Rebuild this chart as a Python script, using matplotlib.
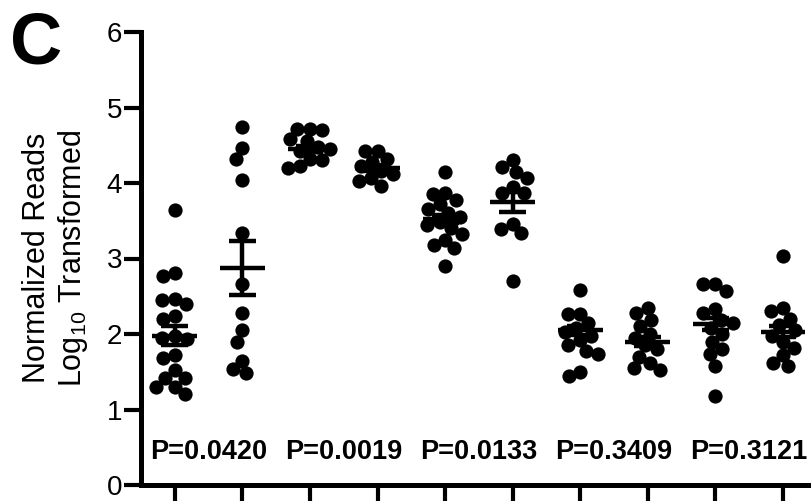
import math
import matplotlib
matplotlib.use("Agg")
import matplotlib.pyplot as plt

plt.rcParams['font.family'] = ['Liberation Sans', 'DejaVu Sans']
plt.rcParams['mathtext.default'] = 'regular'

# ---- data ----
groups = [
    [3.64, 2.81, 2.77, 2.47, 2.45, 2.40, 2.24, 2.20, 1.97, 1.95, 1.93, 1.72,
     1.68, 1.52, 1.42, 1.42, 1.30, 1.30, 1.20],
    [4.74, 4.46, 4.32, 4.04, 3.34, 2.66, 2.28, 2.05, 1.90, 1.64, 1.53, 1.48],
    [4.72, 4.71, 4.70, 4.58, 4.56, 4.48, 4.45, 4.42, 4.32, 4.30, 4.22, 4.20],
    [4.43, 4.42, 4.32, 4.28, 4.22, 4.16, 4.12, 4.06, 4.02, 3.96],
    [4.14, 3.87, 3.86, 3.78, 3.72, 3.66, 3.60, 3.55, 3.48, 3.45, 3.40, 3.33,
     3.25, 3.18, 3.14, 2.90],
    [4.30, 4.21, 4.14, 4.07, 3.95, 3.87, 3.87, 3.46, 3.39, 3.34, 2.70],
    [2.58, 2.27, 2.26, 2.14, 2.08, 2.02, 1.98, 1.92, 1.85, 1.78, 1.73, 1.50,
     1.44],
    [2.34, 2.28, 2.18, 2.10, 2.00, 1.95, 1.85, 1.80, 1.70, 1.62, 1.55, 1.52],
    [2.66, 2.66, 2.57, 2.33, 2.28, 2.18, 2.15, 2.08, 2.00, 1.90, 1.80, 1.73,
     1.57, 1.18],
    [3.03, 2.34, 2.30, 2.20, 2.12, 2.05, 1.98, 1.90, 1.82, 1.72, 1.62, 1.57],
]
means = [1.98, 2.87, 4.45, 4.20, 3.52, 3.75, 2.05, 1.90, 2.13, 2.03]
sems = [0.12, 0.36, 0.04, 0.04, 0.05, 0.13, 0.06, 0.06, 0.08, 0.07]
p_labels = ["P=0.0420", "P=0.0019", "P=0.0133", "P=0.3409", "P=0.3121"]
yticks = [0, 1, 2, 3, 4, 5, 6]

# ---- figure ----
W, H = 812, 501
fig = plt.figure(figsize=(W / 100, H / 100), dpi=100)
ax_left, ax_bottom = 141 / W, 16 / H
ax_w, ax_h = 1 - ax_left, 453 / H
ax = fig.add_axes([ax_left, ax_bottom, ax_w, ax_h])
xmin, xmax = 0.5, 10.43
ax.set_xlim(xmin, xmax)
ax.set_ylim(0, 6)

px_x = ax_w * W / (xmax - xmin)   # pixels per x unit
px_y = ax_h * H / 6               # pixels per y unit


def swarm(vals, d):
    placed = []
    offs = []
    for v in vals:
        y = v * px_y
        cands = [0.0]
        for xp, yp in placed:
            dy = y - yp
            if abs(dy) < d:
                dx = math.sqrt(d * d - dy * dy)
                cands += [xp + dx, xp - dx]
        cands.sort(key=lambda c: (round(abs(c), 6), c))
        for c in cands:
            if all(math.hypot(c - xp, y - yp) >= d - 1e-6 for xp, yp in placed):
                placed.append((c, y))
                offs.append(c / px_x)
                break
    return offs


for i, vals in enumerate(groups):
    pos = i + 1
    offs = swarm(vals, 12.5)
    ax.scatter([pos + o for o in offs], vals, s=105, c='black', linewidths=0,
               zorder=3, clip_on=False)
    m, s = means[i], sems[i]
    kw = dict(color='black', lw=3.2, zorder=4, solid_capstyle='butt', clip_on=False)
    ax.plot([pos - 0.33, pos + 0.33], [m, m], **kw)
    ax.plot([pos - 0.2, pos + 0.2], [m + s, m + s], **kw)
    ax.plot([pos - 0.2, pos + 0.2], [m - s, m - s], **kw)
    ax.plot([pos, pos], [m - s, m + s], **kw)

for k, lab in enumerate(p_labels):
    ax.text(2 * k + 1.5, 0.44, lab, ha='center', va='center', fontsize=19.5,
            fontweight='bold', color='black')

ax.set_xticks(range(1, 11))
ax.set_xticklabels([])
ax.set_yticks(yticks)
ax.set_yticklabels([str(t) for t in yticks], fontsize=20)
ax.tick_params(axis='both', direction='out', length=12.5, width=3, color='black', pad=1)
for side in ('top', 'right'):
    ax.spines[side].set_visible(False)
for side in ('left', 'bottom'):
    ax.spines[side].set_linewidth(3.6)
    ax.spines[side].set_color('black')

fig.text(56 / W, 1 - 258 / H, "Normalized Reads\nLog$_{10}$ Transformed",
         rotation=90, ha='center', va='center', fontsize=22, linespacing=1.15)
fig.text(10 / W, 1 - 63 / H, "C", fontsize=52, fontweight='bold',
         ha='left', va='baseline')

fig.savefig("out.png", dpi=100)
